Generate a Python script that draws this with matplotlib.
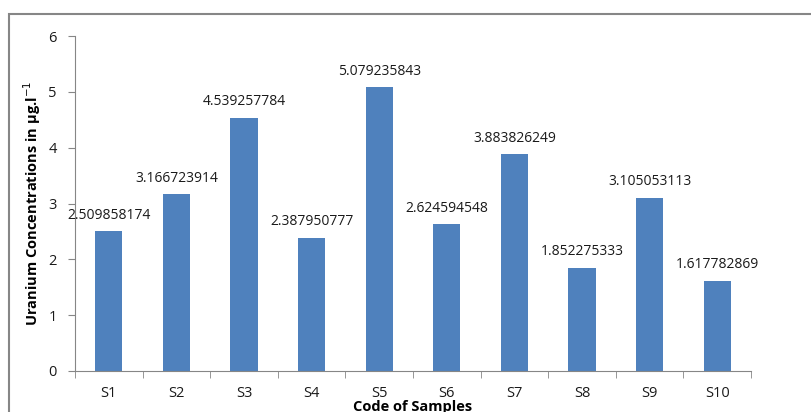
import matplotlib
matplotlib.use("Agg")
import matplotlib.pyplot as plt
from matplotlib.patches import Rectangle

plt.rcParams['font.family'] = ['Open Sans', 'DejaVu Sans']

samples = ['S1', 'S2', 'S3', 'S4', 'S5', 'S6', 'S7', 'S8', 'S9', 'S10']
uranium = [2.509858174, 3.166723914, 4.539257784, 2.387950777, 5.079235843,
           2.624594548, 3.883826249, 1.852275333, 3.105053113, 1.617782869]
y_ticks = [0, 1, 2, 3, 4, 5, 6]

fig = plt.figure(figsize=(8.11, 4.12), dpi=100)
ax = fig.add_axes([75/811, 1 - 371/412, (751 - 75)/811, (371 - 36)/412])

# outer chart frame (cut off at right and bottom like the source)
fig.patches.append(Rectangle((9/811, -0.2), 1.2, 1 - 14/412 + 0.2,
                             transform=fig.transFigure, fill=False,
                             edgecolor='#868686', linewidth=1.5))

x = range(len(samples))
ax.bar(x, uranium, width=0.4, color='#4F81BD')

for i, v in enumerate(uranium):
    ax.annotate(f'{v:.9f}', (i, v), xytext=(0, 6), textcoords='offset points',
                ha='center', va='bottom', fontsize=10, color='#1a1a1a')

ax.set_xlim(-0.5, len(samples) - 0.5)
ax.set_ylim(0, 6)
ax.set_yticks(y_ticks)
ax.set_xticks(list(x))
ax.set_xticklabels(samples)
ax.set_xticks([i - 0.5 for i in range(len(samples) + 1)], minor=True)
ax.tick_params(axis='x', which='major', length=0, pad=11, labelsize=10.5, labelcolor='#1a1a1a')
ax.tick_params(axis='x', which='minor', length=5, color='#868686')
ax.tick_params(axis='y', length=5, color='#868686', pad=8, labelsize=10.5, labelcolor='#1a1a1a')

for s in ['top', 'right']:
    ax.spines[s].set_visible(False)
for s in ['left', 'bottom']:
    ax.spines[s].set_color('#868686')

ax.set_ylabel('Uranium Concentrations in µg.l$^{-1}$', fontsize=10.5, fontweight='bold', labelpad=4)
ax.set_xlabel('Code of Samples', fontsize=10.5, fontweight='bold', labelpad=-1)

fig.savefig('out.png', dpi=100)
